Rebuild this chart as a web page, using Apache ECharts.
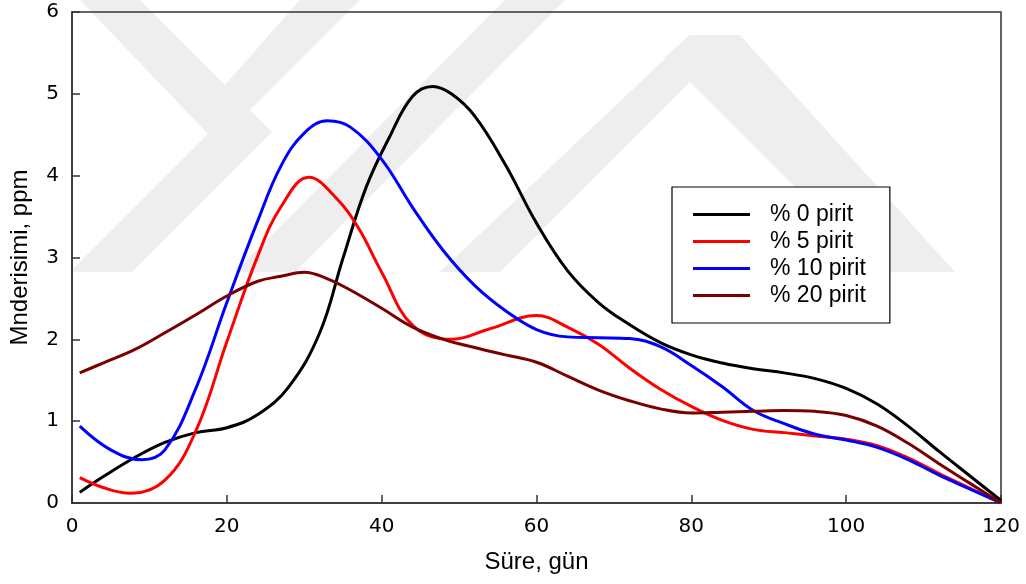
<!DOCTYPE html>
<html>
<head>
<meta charset="utf-8">
<script src="https://cdn.jsdelivr.net/npm/echarts@6/dist/echarts.min.js"></script>
<style>
  html, body { margin: 0; padding: 0; background: #fff; }
  #container { width: 1026px; height: 584px; }
</style>
</head>
<body>
<div id="container"></div>
<script>
// values (day -> Mn, ppm)
var names = ['% 0 pirit', '% 5 pirit', '% 10 pirit', '% 20 pirit'];
var colors = ['#000000', '#ff0000', '#0000ff', '#7a0000'];

var days0 = [1, 4, 8, 12, 16, 20, 24, 28, 32, 35, 38, 41, 44, 46.6, 49, 52, 56, 60, 64, 68, 72, 76, 80, 84, 88, 92, 96, 100, 104, 108, 112, 116, 120];
var pirit0 = [0.13, 0.32, 0.55, 0.74, 0.86, 0.92, 1.08, 1.42, 2.08, 2.99, 3.86, 4.47, 4.97, 5.09, 5.00, 4.73, 4.13, 3.42, 2.84, 2.45, 2.18, 1.96, 1.81, 1.71, 1.64, 1.59, 1.52, 1.40, 1.21, 0.94, 0.63, 0.33, 0.03];

var days5 = [1, 4, 7.5, 12, 16, 20, 24, 27, 30.6, 34, 37, 40, 44, 49, 54, 60, 64, 68, 72, 76, 80, 84, 88, 92, 96, 100, 104, 108, 112, 116, 120];
var pirit5 = [0.31, 0.19, 0.12, 0.28, 0.88, 1.97, 3.02, 3.62, 3.98, 3.74, 3.36, 2.82, 2.17, 2.00, 2.13, 2.29, 2.15, 1.94, 1.65, 1.39, 1.18, 1.01, 0.90, 0.86, 0.82, 0.78, 0.70, 0.55, 0.36, 0.18, 0.00];

var days10 = [1, 5, 9, 12, 16, 20, 24, 27, 30, 33, 36, 40, 44, 48, 52, 56, 60, 64, 68, 72, 76, 80, 84, 88, 92, 96, 100, 104, 108, 112, 116, 120];
var pirit10 = [0.94, 0.65, 0.53, 0.65, 1.40, 2.45, 3.45, 4.12, 4.52, 4.67, 4.59, 4.20, 3.61, 3.08, 2.66, 2.35, 2.12, 2.03, 2.02, 2.01, 1.91, 1.68, 1.42, 1.13, 0.97, 0.84, 0.77, 0.68, 0.53, 0.34, 0.17, 0.00];

var days20 = [1, 4, 8, 12, 16, 20, 24, 27, 30, 33, 36, 40, 44, 48, 52, 56, 60, 64, 68, 72, 76, 80, 84, 88, 92, 96, 100, 104, 108, 112, 116, 120];
var pirit20 = [1.59, 1.71, 1.87, 2.08, 2.30, 2.53, 2.71, 2.77, 2.82, 2.74, 2.60, 2.38, 2.15, 2.00, 1.90, 1.81, 1.72, 1.55, 1.38, 1.25, 1.15, 1.10, 1.11, 1.12, 1.13, 1.12, 1.07, 0.94, 0.73, 0.48, 0.24, 0.00];

var allDays = [days0, days5, days10, days20];
var allVals = [pirit0, pirit5, pirit10, pirit20];

function pairs(d, v) {
    var out = [];
    for (var i = 0; i < d.length; i++) {
        out.push([d[i], v[i]]);
    }
    return out;
}

// faint watermark behind the plot
var wm = '#eeeeee';
function band(pts) {
    return { type: 'polygon', z: -10, silent: true, shape: { points: pts }, style: { fill: wm } };
}

var series = [];
for (var k = 0; k < names.length; k++) {
    series.push({
        name: names[k],
        type: 'line',
        data: pairs(allDays[k], allVals[k]),
        smooth: 0.4,
        symbol: 'none',
        lineStyle: { color: colors[k], width: 3 },
        itemStyle: { color: colors[k] },
        z: 3
    });
}

var myChart = echarts.init(document.getElementById('container'));
var option = {
    backgroundColor: '#ffffff',
    animation: false,
    graphic: [
        band([[80, 0], [140, 0], [272, 132], [132, 272], [70, 272], [208, 134]]),
        band([[235, 272], [295, 272], [565, 0], [505, 0]]),
        band([[440, 272], [500, 272], [715, 57], [690, 35]]),
        band([[690, 35], [740, 35], [955, 272], [880, 272], [665, 57]]),
        band([[300, 0], [360, 0], [250, 110], [225, 85]])
    ],
    grid: {
        left: 71,
        right: 25,
        top: 12,
        bottom: 81,
        show: true,
        borderColor: '#333',
        borderWidth: 1.5,
        backgroundColor: 'transparent'
    },
    legend: {
        orient: 'vertical',
        left: 672,
        top: 187,
        data: names,
        icon: 'rect',
        itemWidth: 57,
        itemHeight: 3,
        itemGap: 4,
        itemStyle: { borderWidth: 0 },
        padding: [16, 24, 16, 21],
        borderColor: '#000',
        borderWidth: 1.2,
        backgroundColor: '#fff',
        textStyle: {
            fontFamily: 'Liberation Sans, Arial, sans-serif',
            fontSize: 23,
            lineHeight: 22,
            color: '#000',
            padding: [0, 0, 0, 15]
        }
    },
    xAxis: {
        type: 'value',
        min: 0,
        max: 120,
        interval: 20,
        name: 'Süre, gün',
        nameLocation: 'middle',
        nameGap: 47,
        nameTextStyle: {
            fontFamily: 'Liberation Sans, Arial, sans-serif',
            fontSize: 24,
            color: '#000'
        },
        axisLine: { show: true, lineStyle: { color: '#333', width: 1.5 } },
        axisTick: { show: true, inside: true, length: 8, lineStyle: { color: '#333', width: 1.5 } },
        axisLabel: {
            margin: 14,
            fontFamily: 'DejaVu Sans, sans-serif',
            fontSize: 20,
            color: '#000'
        },
        splitLine: { show: false }
    },
    yAxis: {
        type: 'value',
        min: 0,
        max: 6,
        interval: 1,
        name: 'Mnderisimi, ppm',
        nameLocation: 'middle',
        nameGap: 40,
        nameTextStyle: {
            fontFamily: 'Liberation Sans, Arial, sans-serif',
            fontSize: 24,
            color: '#000'
        },
        axisLine: { show: true, lineStyle: { color: '#333', width: 1.5 } },
        axisTick: { show: true, inside: true, length: 8, lineStyle: { color: '#333', width: 1.5 } },
        axisLabel: {
            margin: 13,
            fontFamily: 'DejaVu Sans, sans-serif',
            fontSize: 20,
            color: '#000'
        },
        splitLine: { show: false }
    },
    series: series
};
myChart.setOption(option, true);
</script>
</body>
</html>
